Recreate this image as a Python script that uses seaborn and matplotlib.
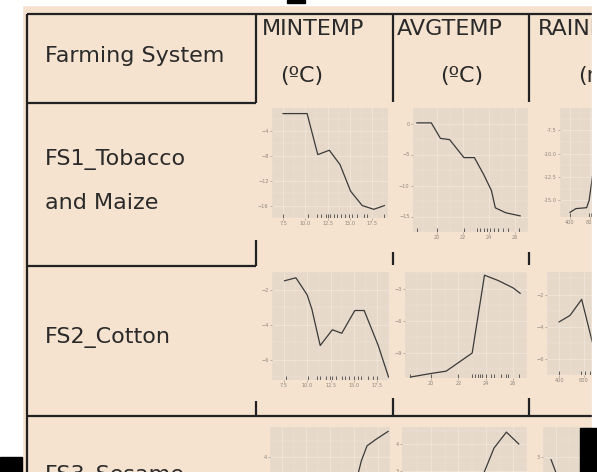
import matplotlib
matplotlib.use("Agg")
import matplotlib.pyplot as plt
from matplotlib.patches import Rectangle
import seaborn as sns

W, H = 597, 472
BEIGE = "#F5E3D0"
PANEL = "#E6D9CA"
GRID = "#EFE4D7"
INK = "#222222"
TICK = "#8f857b"

# ---- data ----
row_labels = [["Farming System"], ["FS1_Tobacco", "and Maize"], ["FS2_Cotton"], ["FS3_Sesame"]]
col_titles = ["MINTEMP", "AVGTEMP", "RAINFALL"]
col_units = ["(ºC)", "(ºC)", "(mm)"]

fs1_min_x = [7.5, 10.2, 11.4, 12.7, 13.9, 15.1, 16.4, 17.7, 18.9]
fs1_min_y = [-1.2, -1.2, -7.8, -7.1, -9.4, -13.7, -16.0, -16.6, -16.0]
fs1_min_rug = [7.5, 10.3, 11.3, 11.8, 12.3, 12.6, 12.8, 13.2, 13.6, 14.0, 14.5, 14.9, 15.3, 15.8, 16.6, 16.9, 18.9]

fs1_avg_x = [18.5, 19.6, 20.3, 21.0, 22.1, 22.9, 23.6, 24.2, 24.5, 25.3, 26.4]
fs1_avg_y = [0.1, 0.1, -2.4, -2.6, -5.5, -5.5, -8.2, -10.8, -13.6, -14.4, -14.9]
fs1_avg_rug = [18.5, 20.0, 22.1, 23.1, 23.3, 23.6, 23.9, 24.1, 24.4, 24.7, 25.1, 25.5, 26.3]

fs1_rain_x = [400, 517, 733, 783, 850, 983]
fs1_rain_y = [-16.3, -15.9, -15.8, -15.0, -12.4, -7.0]
fs1_rain_rug = [400, 770, 820]

fs2_min_x = [7.6, 8.8, 10.0, 10.5, 11.4, 12.7, 13.7, 15.1, 16.1, 17.6, 18.7]
fs2_min_y = [-1.5, -1.33, -2.3, -3.1, -5.2, -4.3, -4.5, -3.2, -3.2, -5.2, -7.0]
fs2_min_rug = [7.7, 10.1, 11.1, 11.4, 12.0, 12.4, 12.7, 13.1, 13.7, 14.1, 14.5, 15.0, 15.4, 15.8, 16.5, 17.0, 17.5]

fs2_avg_x = [18.5, 20.07, 21.1, 23.0, 23.9, 24.9, 26.0, 26.5]
fs2_avg_y = [-11.25, -10.9, -10.7, -9.0, -1.7, -2.2, -2.9, -3.4]
fs2_avg_rug = [18.5, 20.0, 22.0, 23.0, 23.2, 23.4, 23.6, 23.7, 24.0, 24.4, 24.6, 25.1, 25.5, 25.6, 26.4]

fs2_rain_x = [400, 578, 770, 948, 1067]
fs2_rain_y = [-3.7, -3.3, -2.3, -5.0, -3.5]
fs2_rain_rug = [400, 756, 830, 904]

fs3_min_x = [15.0, 15.4, 15.8, 16.4, 17.3, 18.6]
fs3_min_y = [2.86, 3.37, 3.86, 4.34, 4.54, 4.8]

fs3_avg_x = [23.0, 23.6, 24.6, 25.5, 26.4]
fs3_avg_y = [1.9, 2.6, 3.85, 4.44, 4.0]

fs3_rain_x = [326, 444, 578, 726, 948]
fs3_rain_y = [2.91, 2.31, 1.8, 2.3, 3.14]

min_ticks_a = [7.5, 10.0, 12.5, 15.0, 17.5]
avg_ticks = [20, 22, 24, 26]
rain_ticks = [400, 800, 1200]


def box(x0, y0, x1, y1):
    return [x0 / W, 1 - y1 / H, (x1 - x0) / W, (y1 - y0) / H]


def panel(rect, x, y, xlim, ylim, xticks, yticks, ylabels=None, rug=None, xlabels=None):
    ax = fig.add_axes(box(*rect))
    ax.set_facecolor(PANEL)
    for s in ax.spines.values():
        s.set_visible(False)
    sns.lineplot(x=x, y=y, ax=ax, color="#3a3a3a", linewidth=0.9)
    if rug is not None:
        sns.rugplot(x=rug, ax=ax, height=0.035, color="#4a4a4a", linewidth=0.6)
    ax.set_xlim(*xlim)
    ax.set_ylim(*ylim)
    ax.set_xticks(xticks)
    ax.set_yticks(yticks)
    mx = [(a + b) / 2 for a, b in zip(xticks[:-1], xticks[1:])]
    my = [(a + b) / 2 for a, b in zip(yticks[:-1], yticks[1:])]
    ax.set_xticks(mx + [xticks[0] - (xticks[1] - xticks[0]) / 2, xticks[-1] + (xticks[1] - xticks[0]) / 2], minor=True)
    ax.set_yticks(my + [yticks[0] - (yticks[1] - yticks[0]) / 2, yticks[-1] + (yticks[1] - yticks[0]) / 2], minor=True)
    if ylabels is not None:
        ax.set_yticklabels(ylabels)
    if xlabels is not None:
        ax.set_xticklabels(xlabels)
    ax.grid(which="major", color=GRID, linewidth=0.7)
    ax.grid(which="minor", color=GRID, linewidth=0.35)
    ax.set_axisbelow(True)
    ax.tick_params(which="major", labelsize=3.6, colors=TICK, length=1.5, width=0.4, pad=1)
    ax.tick_params(which="minor", length=0)
    ax.set_xlabel("")
    ax.set_ylabel("")
    return ax


fig = plt.figure(figsize=(W / 100, H / 100), dpi=100)
fig.patch.set_facecolor("white")

base = fig.add_axes([0, 0, 1, 1])
base.set_xlim(0, W)
base.set_ylim(H, 0)
base.axis("off")
base.add_patch(Rectangle((22, 5), 570, 467, color=BEIGE, zorder=0))

lw = 1.6
segs = [
    ([27, 597], [14, 14]),
    ([27, 27], [14, 472]),
    ([27, 256], [103, 103]),
    ([256, 256], [14, 103]),
    ([393, 393], [14, 102]),
    ([529, 529], [14, 102]),
    ([27, 256], [266, 266]),
    ([256, 256], [240, 266]),
    ([393, 393], [252, 265]),
    ([529, 529], [252, 265]),
    ([256, 256], [401, 416]),
    ([393, 393], [398, 416]),
    ([529, 529], [398, 416]),
    ([27, 597], [416, 416]),
]
for xs, ys in segs:
    base.plot(xs, ys, color=INK, linewidth=lw, solid_capstyle="butt")

tkw = dict(fontsize=16, color="#2a2a2a", family="DejaVu Sans", va="baseline", ha="left")
base.text(45, 62, row_labels[0][0], **tkw)
base.text(45, 165, row_labels[1][0], **tkw)
base.text(45, 209, row_labels[1][1], **tkw)
base.text(45, 343, row_labels[2][0], **tkw)
base.text(45, 481, row_labels[3][0], clip_on=False, **tkw)
for xt, xu, title, unit in zip([262, 397, 538], [280, 440, 578], col_titles, col_units):
    base.text(xt, 35, title, **tkw)
    base.text(xu, 82, unit, **tkw)

# row 1
panel((272, 108, 388, 218), fs1_min_x, fs1_min_y, (7.0, 19.3), (-17.2, -0.3),
      min_ticks_a, [-16, -12, -8, -4], rug=fs1_min_rug)
panel((413, 108, 528, 232), fs1_avg_x, fs1_avg_y, (18.2, 26.6), (-15.5, 0.9),
      avg_ticks, [-15, -10, -5, 0], rug=fs1_avg_rug)
panel((560, 108, 620, 217), fs1_rain_x, fs1_rain_y, (317, 1317), (-16.8, -5.1),
      rain_ticks, [-15.0, -12.5, -10.0, -7.5], ylabels=["-15.0", "-12.5", "-10.0", "-7.5"], rug=fs1_rain_rug)
# row 2
panel((272, 272, 389, 380), fs2_min_x, fs2_min_y, (7.0, 18.7), (-7.17, -1.17),
      min_ticks_a, [-6, -4, -2], rug=fs2_min_rug)
panel((405, 272, 527, 378), fs2_avg_x, fs2_avg_y, (18.1, 26.9), (-11.34, -1.4),
      avg_ticks, [-9, -6, -3], rug=fs2_avg_rug)
panel((547, 272, 620, 375), fs2_rain_x, fs2_rain_y, (311, 1393), (-6.4, -0.6),
      rain_ticks, [-6, -4, -2], rug=fs2_rain_rug)
# row 3
panel((270, 427, 390, 540), fs3_min_x, fs3_min_y, (6.8, 18.8), (1.34, 4.94),
      min_ticks_a, [2, 3, 4])
panel((402, 427, 527, 540), fs3_avg_x, fs3_avg_y, (17.9, 26.9), (0.44, 4.63),
      avg_ticks, [1, 2, 3, 4])
panel((543, 427, 620, 540), fs3_rain_x, fs3_rain_y, (252, 1393), (0.66, 3.89),
      rain_ticks, [1, 2, 3])

# page edges around the screenshot crop
for (x0, y0, x1, y1), c in [((592, 0, 597, 428), "white"), ((0, 0, 22, 457), "white"),
                            ((0, 0, 597, 5), "white"), ((0, 457, 22, 472), "black"),
                            ((580, 428, 597, 472), "black"), ((287, 0, 305, 3), "black")]:
    fig.add_artist(Rectangle((x0 / W, 1 - y1 / H), (x1 - x0) / W, (y1 - y0) / H,
                             transform=fig.transFigure, color=c, zorder=10))

fig.savefig("out.png", dpi=100)
